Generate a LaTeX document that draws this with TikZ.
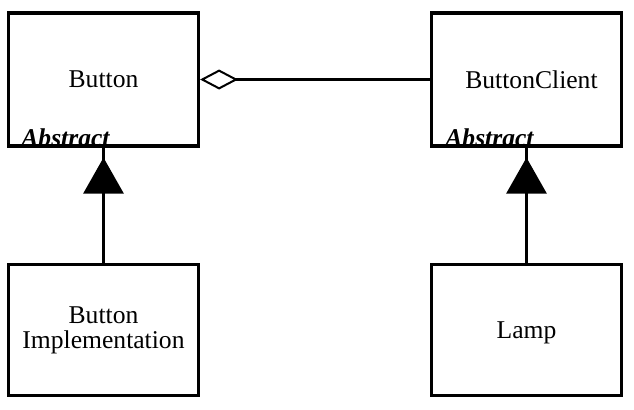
\documentclass[tikz,border=0pt]{standalone}
\usepackage{fontspec}
\setmainfont{Liberation Serif}
\usetikzlibrary{arrows.meta}
\begin{document}
\begin{tikzpicture}[x=0.5pt,y=-0.5pt,
  cls/.style={draw, line width=1.6pt, minimum width=95pt, inner sep=0pt, align=center,
    font=\fontsize{12.8}{12.5}\selectfont},
  abst/.style={anchor=base west, inner sep=0pt, font=\fontsize{12.8}{13}\selectfont\bfseries\itshape},
  conn/.style={line width=1.5pt},
  gen/.style={line width=1.5pt, -{Triangle[length=18pt, width=20pt]}},
  agg/.style={line width=1.5pt, -{Diamond[open, length=19pt, width=10pt, line width=1pt]}}]
\useasboundingbox (0,0) rectangle (634,409);
\node[cls, minimum height=66.5pt] (button) at (103.5,79.5) {Button};
\node[cls, minimum height=66.5pt] (client) at (526.5,79.5) {\hspace*{5pt}ButtonClient};
\node[cls, minimum height=65.5pt] (impl) at (103.5,330) {Button\\Implementation};
\node[cls, minimum height=65.5pt, text depth=0pt] (lamp) at (526.5,330) {Lamp};
\node[abst] (abs1) at (21,146) {Abstract};
\node[abst] (abs2) at (445,146) {Abstract};
\draw[agg] (client.west) -- (button.east);
\coordinate (t1) at ([yshift=-5pt]button.south);
\coordinate (t2) at ([yshift=-5pt]client.south);
\draw[conn] (impl.north) -- (button.south);
\draw[gen] (impl.north) -- (t1);
\draw[conn] (lamp.north) -- (client.south);
\draw[gen] (lamp.north) -- (t2);
\end{tikzpicture}
\end{document}
